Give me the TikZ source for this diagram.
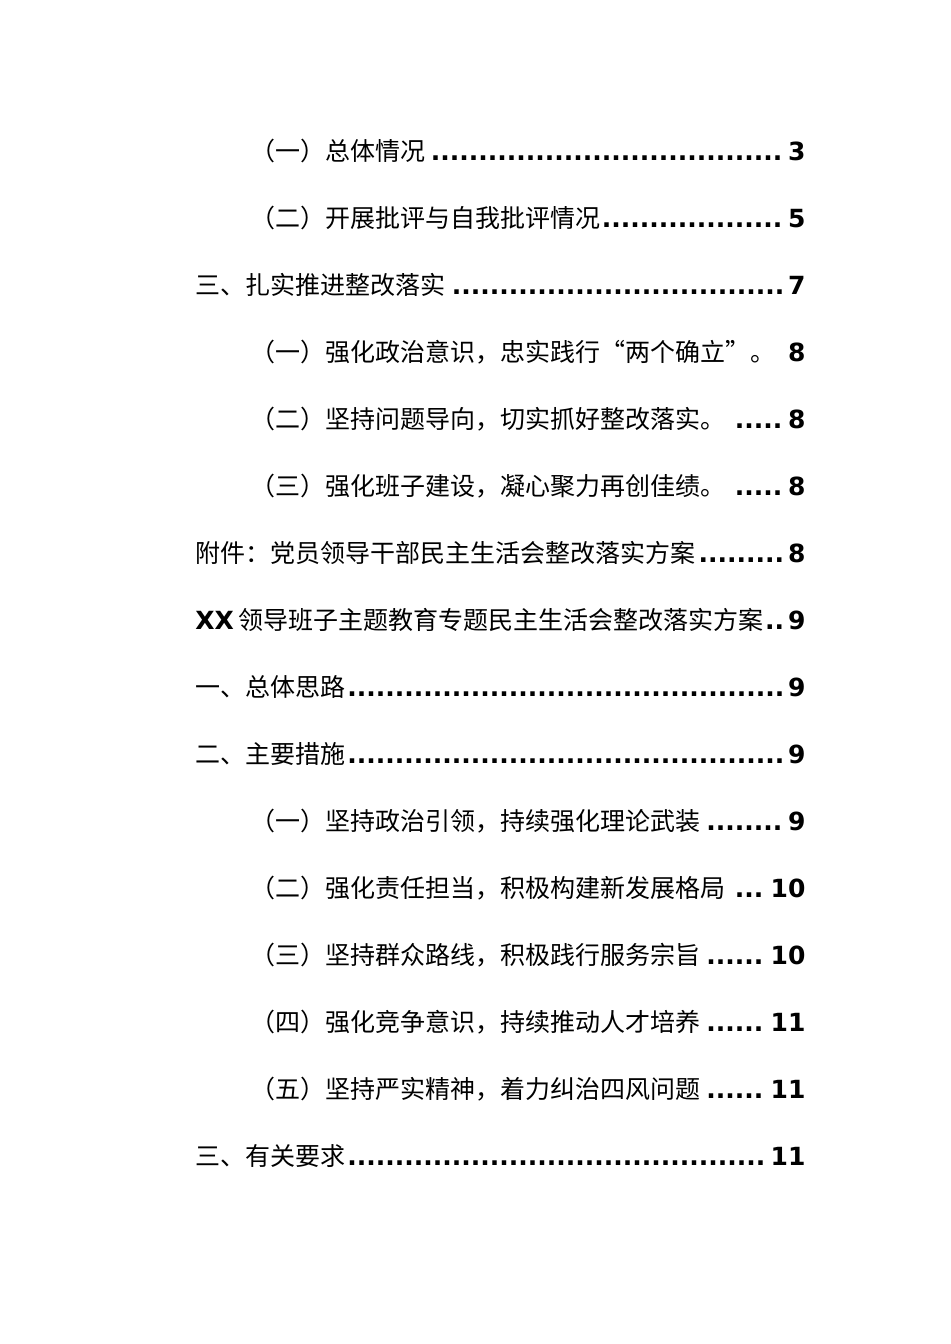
\documentclass[tikz,border=0pt]{standalone}
\usepackage{fontspec}
\setmainfont{DejaVu Sans}
\newfontfamily\cjk{Noto Sans CJK SC}
\newfontfamily\latb{DejaVu Sans Bold}
\tikzset{entry/.style={anchor=west, inner sep=0pt, font=\fontsize{12.5pt}{14pt}\selectfont}}
% one line of the contents: name, left x, y, title, page
\newcommand\tocentry[5]{%
  \pgfmathsetmacro\tocw{(805-#2)*0.5}%
  \node[entry] (#1) at (#2,#3) {\hbox to \tocw pt{\cjk #4\leaders\hbox{\latb .}\hfill\latb #5}};}
\begin{document}
\begin{tikzpicture}[x=0.5pt, y=-0.5pt]
    \useasboundingbox (0,0) rectangle (950,1344);
    \tocentry{E1}{250}{151}{（一）总体情况}{3}
    \tocentry{E2}{250}{218}{（二）开展批评与自我批评情况}{5}
    \tocentry{E3}{195}{285}{三、扎实推进整改落实}{7}
    \tocentry{E4}{250}{352}{（一）强化政治意识，忠实践行“两个确立”。}{8}
    \tocentry{E5}{250}{419}{（二）坚持问题导向，切实抓好整改落实。}{8}
    \tocentry{E6}{250}{486}{（三）强化班子建设，凝心聚力再创佳绩。}{8}
    \tocentry{E7}{195}{553}{附件：党员领导干部民主生活会整改落实方案}{8}
    \tocentry{E8}{195}{620}{{\latb XX}\,领导班子主题教育专题民主生活会整改落实方案}{9}
    \tocentry{E9}{195}{687}{一、总体思路}{9}
    \tocentry{E10}{195}{754}{二、主要措施}{9}
    \tocentry{E11}{250}{821}{（一）坚持政治引领，持续强化理论武装}{9}
    \tocentry{E12}{250}{888}{（二）强化责任担当，积极构建新发展格局}{10}
    \tocentry{E13}{250}{955}{（三）坚持群众路线，积极践行服务宗旨}{10}
    \tocentry{E14}{250}{1022}{（四）强化竞争意识，持续推动人才培养}{11}
    \tocentry{E15}{250}{1089}{（五）坚持严实精神，着力纠治四风问题}{11}
    \tocentry{E16}{195}{1156}{三、有关要求}{11}
\end{tikzpicture}
\end{document}
